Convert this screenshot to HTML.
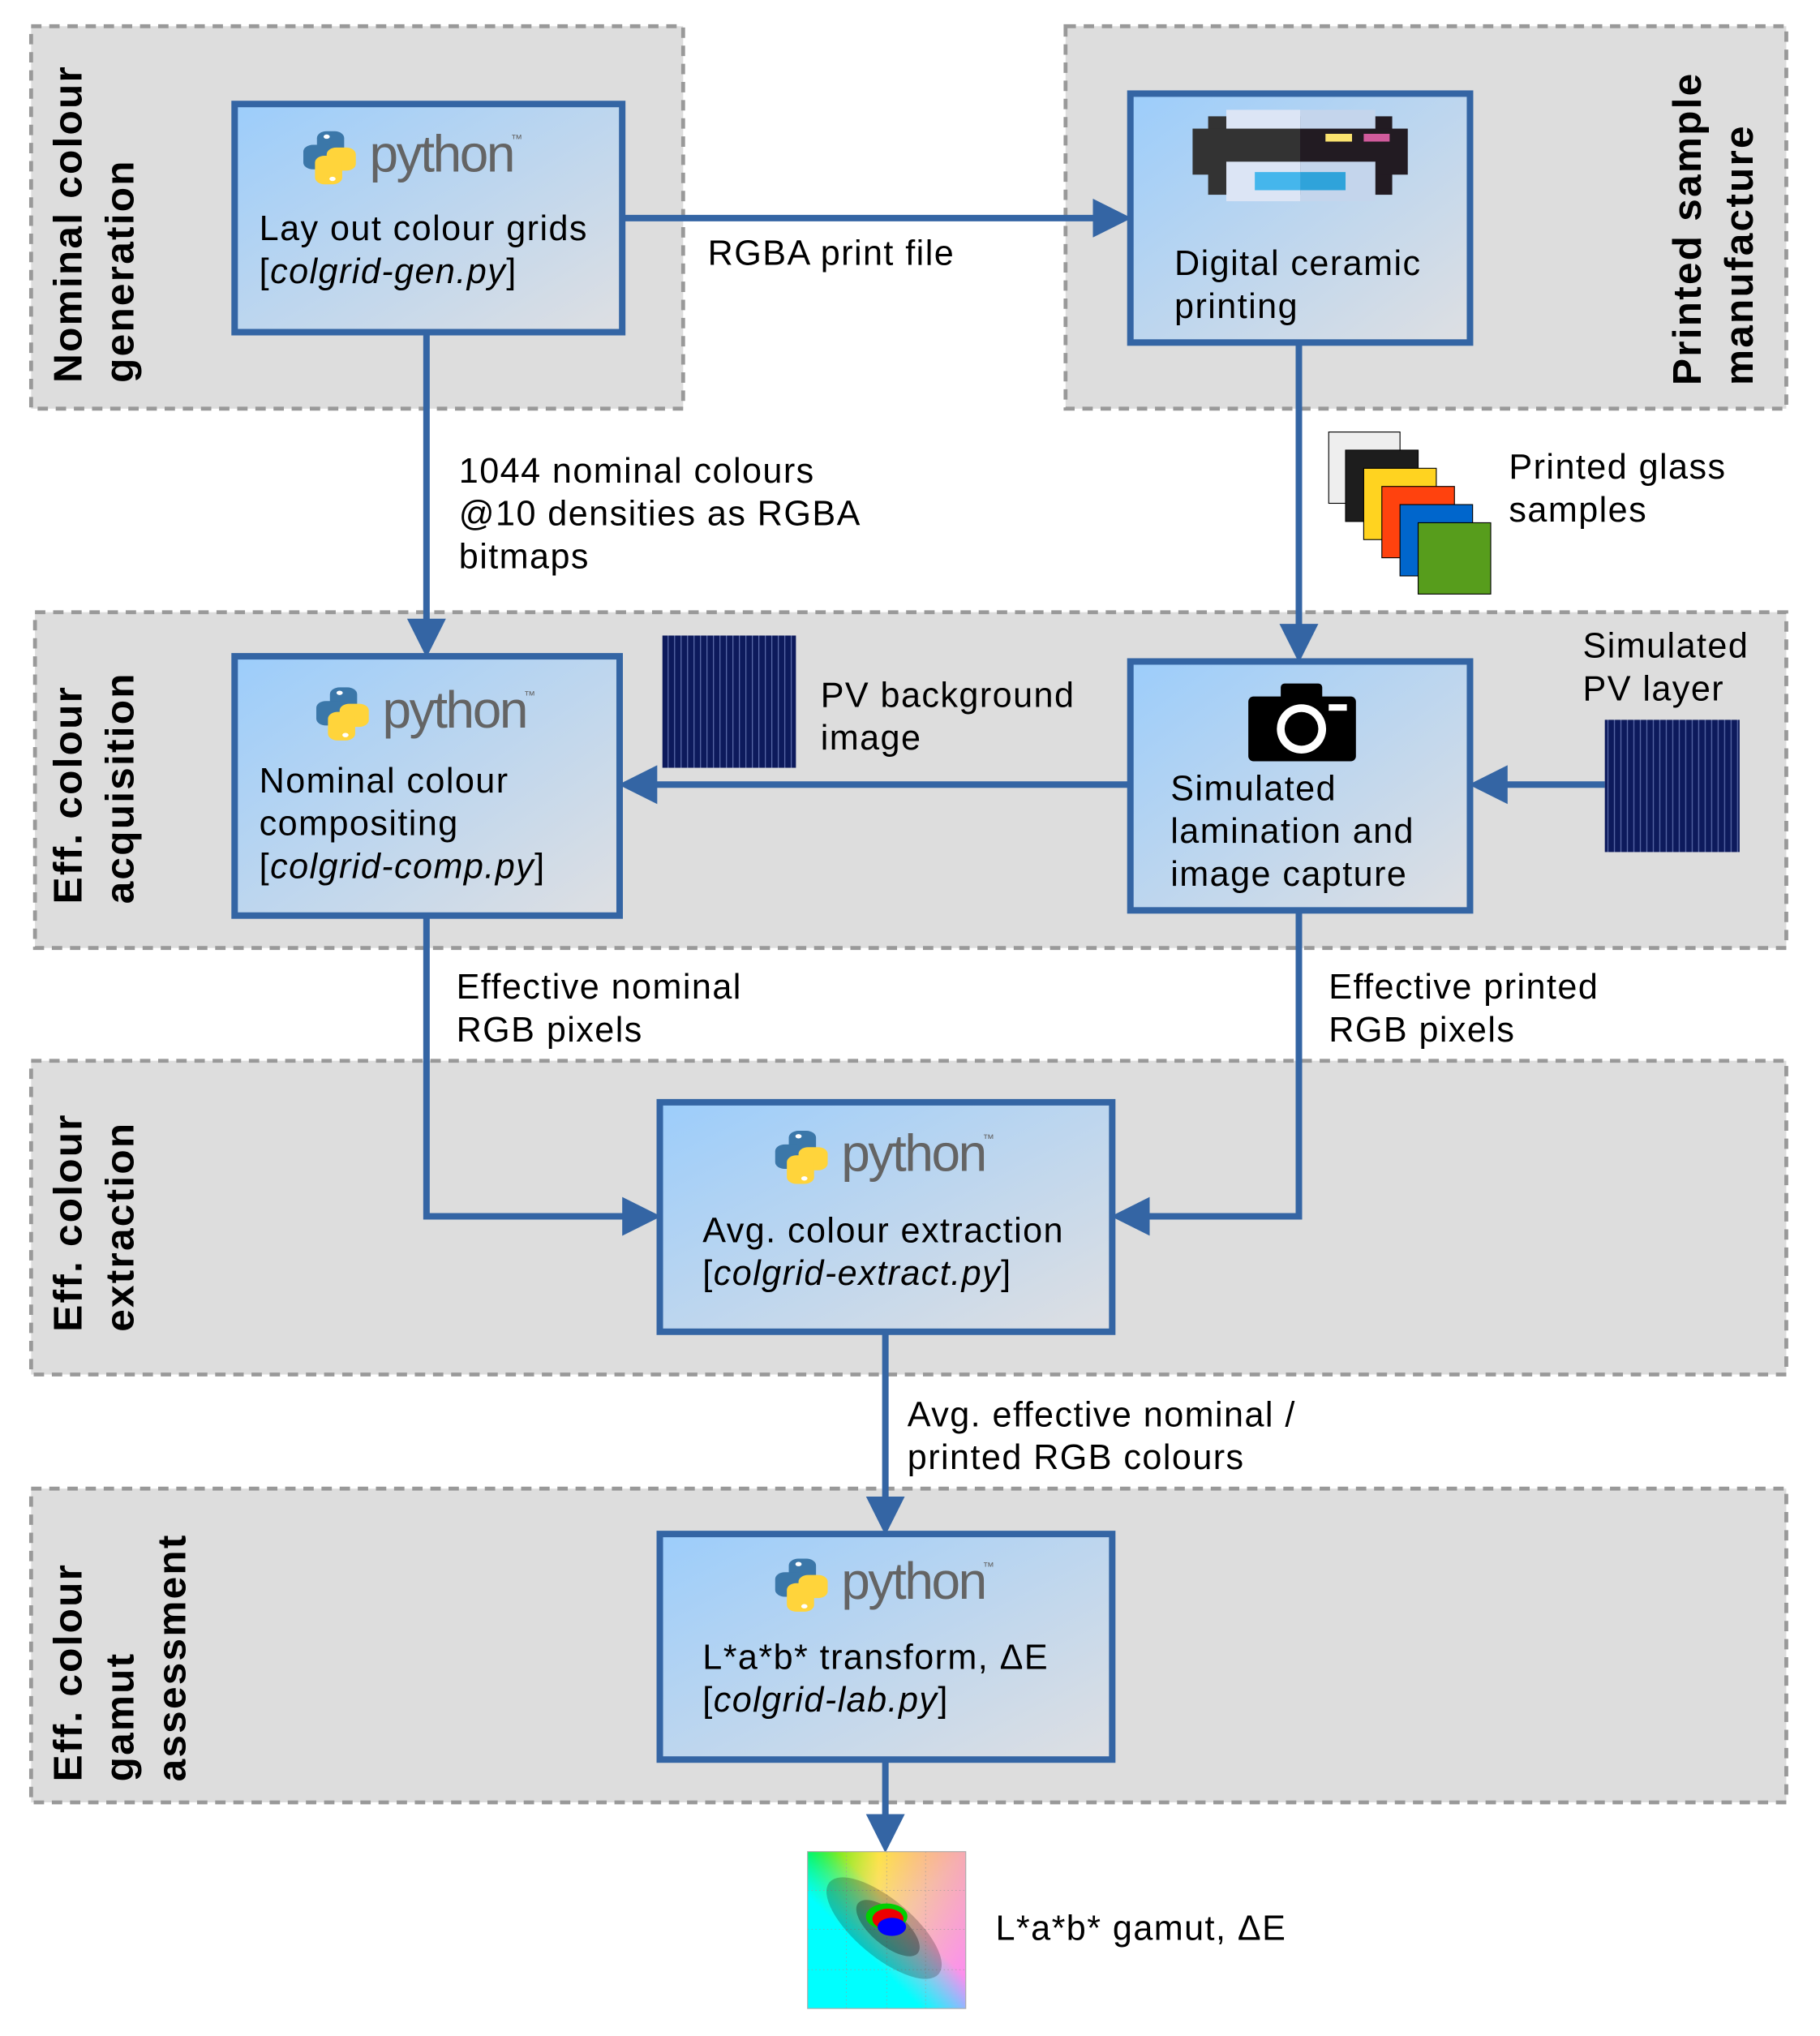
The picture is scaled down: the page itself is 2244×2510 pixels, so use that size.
<!DOCTYPE html>
<html><head><meta charset="utf-8"><style>
html,body{margin:0;padding:0;background:#fff}
svg{display:block}
text{font-family:"Liberation Sans",sans-serif}
</style></head><body>
<svg width="2244" height="2510" viewBox="0 0 1404 1570" xmlns="http://www.w3.org/2000/svg">
<defs>
<linearGradient id="bf" x1="0" y1="0" x2="1" y2="1">
<stop offset="0" stop-color="#9ccdfb"/><stop offset="1" stop-color="#dedfe2"/></linearGradient>
<linearGradient id="g1" x1="0" y1="0" x2="1" y2="0">
<stop offset="0" stop-color="#00f000"/><stop offset="0.45" stop-color="#ffe000"/><stop offset="1" stop-color="#ff7040"/></linearGradient>
<linearGradient id="g2" x1="0" y1="0" x2="1" y2="1">
<stop offset="0" stop-color="#fff" stop-opacity="0"/><stop offset="0.5" stop-color="#f0d0ff" stop-opacity="0.6"/><stop offset="1" stop-color="#ff80ff"/></linearGradient>
<linearGradient id="g3" x1="0" y1="1" x2="0.6" y2="0.4">
<stop offset="0" stop-color="#00ffff"/><stop offset="0.6" stop-color="#00ffff"/><stop offset="1" stop-color="#00ffff" stop-opacity="0"/></linearGradient>
<g id="py">
<g transform="scale(1.5,1.05)">
<rect x="7" y="0" width="14" height="22" rx="5" fill="#3b77a9"/>
<rect x="0" y="10" width="16" height="18" rx="5" fill="#3b77a9"/>
<rect x="12" y="12" width="15" height="17" rx="5" fill="#ffd43b"/>
<rect x="6" y="18" width="14" height="21" rx="5" fill="#ffd43b"/>
<circle cx="12" cy="4" r="1.6" fill="#fff"/><circle cx="15" cy="35" r="1.6" fill="#fff"/>
</g>
<text x="51" y="31" font-size="40" fill="#646464" letter-spacing="-1.5">python</text>
<text x="160" y="9" font-size="9" fill="#646464">™</text>
</g>
<marker id="ah" markerWidth="6" markerHeight="6" refX="5" refY="3" orient="auto" markerUnits="strokeWidth"><path d="M0,0 L6,3 L0,6 Z" fill="#3465a4"/></marker>
<pattern id="pv" width="5" height="10" patternUnits="userSpaceOnUse"><rect width="5" height="10" fill="#0d1a5c"/><rect width="0.8" height="10" fill="#5a6aa8"/></pattern>
</defs>

<g fill="#dddddd" stroke="#999" stroke-width="3" stroke-dasharray="8,6">
<rect x="24" y="20" width="503" height="295"/>
<rect x="822" y="20" width="556" height="295"/>
<rect x="27" y="472" width="1351" height="259"/>
<rect x="24" y="818" width="1354" height="242"/>
<rect x="24" y="1148" width="1354" height="242"/>
</g>

<g font-size="31" font-weight="bold" fill="#000" letter-spacing="1.4">
<text transform="translate(63,295) rotate(-90)">Nominal colour</text>
<text transform="translate(103,295) rotate(-90)">generation</text>
<text transform="translate(1312,297) rotate(-90)">Printed sample</text>
<text transform="translate(1352,297) rotate(-90)">manufacture</text>
<text transform="translate(63,697) rotate(-90)">Eff. colour</text>
<text transform="translate(103,697) rotate(-90)">acquisition</text>
<text transform="translate(63,1027) rotate(-90)">Eff. colour</text>
<text transform="translate(103,1027) rotate(-90)">extraction</text>
<text transform="translate(63,1374) rotate(-90)">Eff. colour</text>
<text transform="translate(103,1374) rotate(-90)">gamut</text>
<text transform="translate(143,1374) rotate(-90)">assessment</text>
</g>

<g stroke="#3465a4" stroke-width="5" fill="none">
<line x1="480" y1="168" x2="868" y2="168" marker-end="url(#ah)"/>
<line x1="329" y1="256" x2="329" y2="502" marker-end="url(#ah)"/>
<line x1="1002" y1="264" x2="1002" y2="506" marker-end="url(#ah)"/>
<line x1="872" y1="605" x2="482" y2="605" marker-end="url(#ah)"/>
<line x1="1238" y1="605" x2="1138" y2="605" marker-end="url(#ah)"/>
<polyline points="329,706 329,938 505,938" marker-end="url(#ah)"/>
<polyline points="1002,702 1002,938 862,938" marker-end="url(#ah)"/>
<line x1="683" y1="1027" x2="683" y2="1179" marker-end="url(#ah)"/>
<line x1="683" y1="1357" x2="683" y2="1424" marker-end="url(#ah)"/>
</g>

<g fill="url(#bf)" stroke="#3465a4" stroke-width="5">
<rect x="181" y="80" width="299" height="176"/>
<rect x="872" y="72" width="262" height="192"/>
<rect x="181" y="506" width="297" height="200"/>
<rect x="872" y="510" width="262" height="192"/>
<rect x="509" y="850" width="349" height="177"/>
<rect x="509" y="1183" width="349" height="174"/>
</g>

<use href="#py" x="234" y="101"/>
<use href="#py" x="244" y="530"/>
<use href="#py" x="598" y="872"/>
<use href="#py" x="598" y="1202"/>

<!-- printer -->
<g>
<rect x="932" y="89.5" width="71" height="60.5" fill="#333"/>
<rect x="1003" y="89.5" width="71" height="60.5" fill="#221b22"/>
<rect x="920" y="99" width="83" height="35.5" fill="#333"/>
<rect x="1003" y="99" width="83" height="35.5" fill="#221b22"/>
<rect x="946" y="84.5" width="57" height="14.5" fill="#dce5f5"/>
<rect x="1003" y="84.5" width="58" height="14.5" fill="#c4d5ec"/>
<rect x="946" y="124.5" width="57" height="30.5" fill="#dce5f5"/>
<rect x="1003" y="124.5" width="58" height="30.5" fill="#c4d5ec"/>
<rect x="968" y="132.5" width="35" height="14" fill="#45b6ec"/>
<rect x="1003" y="132.5" width="35" height="14" fill="#2fa3da"/>
<rect x="1022.5" y="103" width="20.5" height="6" fill="#fae26f"/>
<rect x="1052" y="103" width="20" height="6" fill="#d15b9c"/>
</g>

<!-- camera -->
<g>
<rect x="963" y="537" width="83" height="50" rx="4" fill="#000"/>
<rect x="988" y="527" width="32" height="14" rx="3" fill="#000"/>
<circle cx="1004" cy="562" r="19" fill="#fff"/>
<circle cx="1004" cy="562" r="13" fill="#000"/>
<rect x="1025" y="543" width="14" height="5" fill="#fff"/>
</g>

<!-- glass samples -->
<g stroke="#000" stroke-width="0.7">
<rect x="1025" y="333" width="55" height="55" fill="#eee"/>
<rect x="1038" y="347" width="56" height="55" fill="#1d1d1d"/>
<rect x="1052" y="361" width="56" height="55" fill="#ffd320"/>
<rect x="1066" y="375" width="56" height="55" fill="#ff420e"/>
<rect x="1080" y="389" width="56" height="55" fill="#0066cc"/>
<rect x="1094" y="403" width="56" height="55" fill="#579d1c"/>
</g>

<rect x="511" y="490" width="103" height="102" fill="url(#pv)"/>
<rect x="1238" y="555" width="104" height="102" fill="url(#pv)"/>

<!-- gamut -->
<g>
<rect x="623" y="1428" width="122" height="121" fill="url(#g1)"/>
<rect x="623" y="1428" width="122" height="121" fill="url(#g2)"/>
<rect x="623" y="1428" width="122" height="121" fill="url(#g3)"/>
<g stroke="#999" stroke-width="0.4" stroke-dasharray="1,2">
<line x1="653" y1="1428" x2="653" y2="1549"/><line x1="684" y1="1428" x2="684" y2="1549"/><line x1="714" y1="1428" x2="714" y2="1549"/>
<line x1="623" y1="1458" x2="745" y2="1458"/><line x1="623" y1="1488" x2="745" y2="1488"/><line x1="623" y1="1519" x2="745" y2="1519"/>
</g>
<ellipse cx="682" cy="1487" rx="55" ry="22" transform="rotate(40 682 1487)" fill="#000" opacity="0.22"/>
<ellipse cx="685" cy="1487" rx="30" ry="13" transform="rotate(40 685 1487)" fill="#000" opacity="0.3"/>
<ellipse cx="684" cy="1478" rx="16" ry="10" fill="#00d000"/>
<ellipse cx="685" cy="1480" rx="12" ry="8" fill="#ee0000"/>
<ellipse cx="688" cy="1486" rx="11" ry="7" fill="#0000ff"/>
<rect x="623" y="1428" width="122" height="121" fill="none" stroke="#aaa" stroke-width="0.7"/>
</g>

<g font-size="27" fill="#000" letter-spacing="0.9">
<text x="200" y="185">Lay out colour grids</text>
<text x="200" y="218">[<tspan font-style="italic">colgrid-gen.py</tspan>]</text>
<text x="906" y="212">Digital ceramic</text>
<text x="906" y="245">printing</text>
<text x="200" y="611">Nominal colour</text>
<text x="200" y="644">compositing</text>
<text x="200" y="677">[<tspan font-style="italic">colgrid-comp.py</tspan>]</text>
<text x="903" y="617">Simulated</text>
<text x="903" y="650">lamination and</text>
<text x="903" y="683">image capture</text>
<text x="542" y="958">Avg. colour extraction</text>
<text x="542" y="991">[<tspan font-style="italic">colgrid-extract.py</tspan>]</text>
<text x="542" y="1287">L*a*b* transform, ΔE</text>
<text x="542" y="1320">[<tspan font-style="italic">colgrid-lab.py</tspan>]</text>

<text x="546" y="204">RGBA print file</text>
<text x="354" y="372">1044 nominal colours</text>
<text x="354" y="405">@10 densities as RGBA</text>
<text x="354" y="438">bitmaps</text>
<text x="1164" y="369">Printed glass</text>
<text x="1164" y="402">samples</text>
<text x="1221" y="507">Simulated</text>
<text x="1221" y="540">PV layer</text>
<text x="633" y="545">PV background</text>
<text x="633" y="578">image</text>
<text x="352" y="770">Effective nominal</text>
<text x="352" y="803">RGB pixels</text>
<text x="1025" y="770">Effective printed</text>
<text x="1025" y="803">RGB pixels</text>
<text x="700" y="1100">Avg. effective nominal /</text>
<text x="700" y="1133">printed RGB colours</text>
<text x="768" y="1496">L*a*b* gamut, ΔE</text>
</g>
</svg>
</body></html>
